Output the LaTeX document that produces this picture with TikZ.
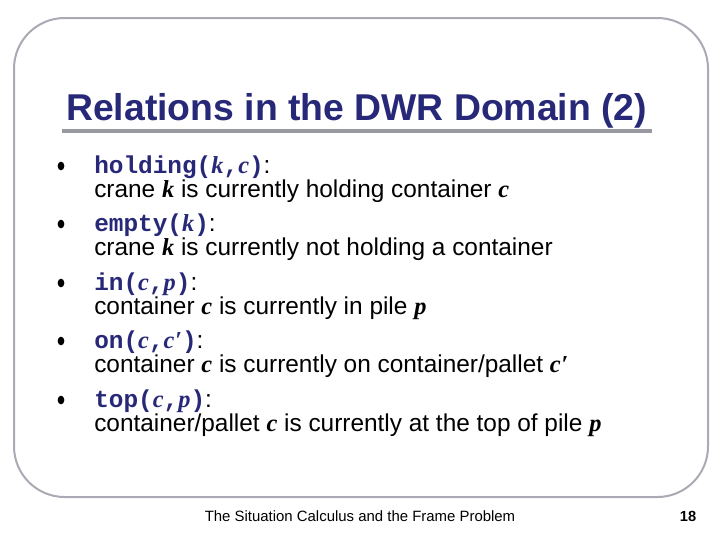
\documentclass[tikz,border=0pt]{standalone}
\usepackage{fontspec}
\usetikzlibrary{shapes.geometric}
\setmainfont{Liberation Sans}
\newfontfamily\codefont{Liberation Mono}
\newfontfamily\varfont{Liberation Serif}
\definecolor{navy}{RGB}{40,40,120}
\definecolor{framegray}{RGB}{170,170,180}
\newcommand{\cd}[1]{{\codefont\bfseries\color{navy}#1}}
\newcommand{\vv}[1]{{\varfont\bfseries\itshape #1}}
\begin{document}
\begin{tikzpicture}[x=0.75pt,y=-0.75pt,
  body/.style={anchor=base west,inner sep=0pt,font=\fontsize{18.3}{22}\selectfont},
  bul/.style={ellipse,fill=black,inner sep=0pt,minimum width=5pt,minimum height=6.5pt}]
\useasboundingbox (0,0) rectangle (720,540);
\draw[framegray,line width=1.5pt,rounded corners=38pt] (14,18) rectangle (708,497);
\node[anchor=base west,inner sep=0pt,font=\fontsize{28}{32}\bfseries\selectfont,text=navy] (title) at (66,120) {Relations in the DWR Domain (2)};
\draw[framegray!90!black,line width=2.5pt] (62,131) -- (652,131);
\foreach \i/\y in {1/166,2/224,3/283,4/341,5/400}{
  \node[bul] (b\i) at (61,\y) {};
}
\node[body] (l1) at (94,173) {\cd{holding(\vv{k},\vv{c})}:};
\node[body] (d1) at (94,197) {crane \vv{k} is currently holding container \vv{c}};
\node[body] (l2) at (94,231) {\cd{empty(\vv{k})}:};
\node[body] (d2) at (94,255) {crane \vv{k} is currently not holding a container};
\node[body] (l3) at (94,290) {\cd{in(\vv{c},\vv{p})}:};
\node[body] (d3) at (94,314) {container \vv{c} is currently in pile \vv{p}};
\node[body] (l4) at (94,348) {\cd{on(\vv{c},\vv{c\kern0.5pt\char"2032})}:};
\node[body] (d4) at (94,372) {container \vv{c} is currently on container/pallet \vv{c\kern0.5pt\char"2032}};
\node[body] (l5) at (94,407) {\cd{top(\vv{c},\vv{p})}:};
\node[body] (d5) at (94,431) {container/pallet \vv{c} is currently at the top of pile \vv{p}};
\node[font=\fontsize{11.2}{13}\selectfont] (foot) at (360,516) {The Situation Calculus and the Frame Problem};
\node[font=\fontsize{11}{13}\bfseries\selectfont] (num) at (688,516) {18};
\end{tikzpicture}
\end{document}
